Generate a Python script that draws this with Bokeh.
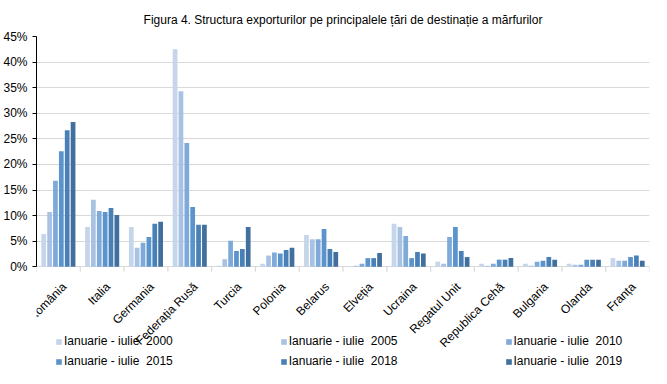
import numpy as np
from bokeh.plotting import figure
from bokeh.models import (ColumnDataSource, FixedTicker, NumeralTickFormatter,
                          Legend, LegendItem, Range1d)
from bokeh.core.properties import value
from bokeh.embed import file_html
from bokeh.resources import INLINE

countries = ["România", "Italia", "Germania", "Federația Rusă", "Turcia", "Polonia",
             "Belarus", "Elveția", "Ucraina", "Regatul Unit", "Republica Cehă",
             "Bulgaria", "Olanda", "Franța"]

series_names = ["Ianuarie - iulie  2000", "Ianuarie - iulie  2005", "Ianuarie - iulie  2010",
                "Ianuarie - iulie  2015", "Ianuarie - iulie  2018", "Ianuarie - iulie  2019"]

v2000 = [6.4, 7.8, 7.8, 42.5, 0.2, 0.6, 6.2, 0.1, 8.4, 1.0, 0.6, 0.6, 0.6, 1.7]
v2005 = [10.7, 13.1, 3.7, 34.3, 1.5, 2.2, 5.4, 0.2, 7.8, 0.6, 0.2, 0.2, 0.4, 1.2]
v2010 = [16.8, 10.9, 4.7, 24.2, 5.1, 2.8, 5.4, 0.6, 6.0, 5.8, 0.6, 1.0, 0.4, 1.2]
v2015 = [22.6, 10.7, 5.8, 11.7, 3.1, 2.6, 7.4, 1.7, 1.7, 7.8, 1.4, 1.2, 1.4, 1.9]
v2018 = [26.7, 11.5, 8.4, 8.2, 3.5, 3.3, 3.5, 1.7, 2.9, 3.1, 1.4, 1.9, 1.4, 2.2]
v2019 = [28.3, 10.1, 8.8, 8.2, 7.8, 3.7, 2.9, 2.7, 2.6, 1.9, 1.7, 1.4, 1.4, 1.2]

y_ticks = [0, 5, 10, 15, 20, 25, 30, 35, 40, 45]

all_series = [v2000, v2005, v2010, v2015, v2018, v2019]
colors = ["#C5D5EA", "#A8C2E3", "#7EA9D9", "#5B94CC", "#4A80B8", "#41709E"]

FONT = "Liberation Sans"

# the frame extends below 0 to hold the category labels and the legend
p = figure(width=651, height=368, output_backend="svg", toolbar_location=None,
           x_axis_location=None,
           x_range=Range1d(0, len(countries)), y_range=Range1d(-0.1987, 0.45),
           min_border_left=0, min_border_right=2, min_border_top=0, min_border_bottom=0)
p.outline_line_color = None
p.background_fill_color = "white"
p.title.text = "Figura 4. Structura exporturilor pe principalele țări de destinație a mărfurilor"
p.title.text_font = FONT
p.title.text_font_size = "12px"
p.title.text_font_style = "normal"
p.title.text_color = "#000000"
p.title.align = "center"
p.title.offset = 29
p.title.standoff = 20

centers = np.arange(len(countries)) + 0.5
boundaries = np.arange(len(countries) + 1)
pitch = 0.134
bar_w = 0.108
renderers = []
for i, vals in enumerate(all_series):
    xs = centers + (i - 2.5) * pitch
    src = ColumnDataSource(dict(x=xs, top=np.array(vals) / 100.0))
    r = p.vbar(x="x", top="top", width=bar_w, source=src, color=colors[i], line_color=None)
    renderers.append(r)

# category boundary ticks below the zero line
p.segment(x0=boundaries, y0=np.zeros(len(boundaries)), x1=boundaries,
          y1=np.full(len(boundaries), -0.0097), line_color="#D9D9D9", line_width=1.2)

# category labels
lab_src = ColumnDataSource(dict(x=centers, y=np.zeros(len(centers)), label=countries))
p.text(x="x", y="y", text="label", source=lab_src, angle=np.pi / 4,
       text_align="right", text_baseline="top", x_offset=1, y_offset=13,
       text_font=value(FONT), text_font_size=value("12px"), text_color="#000000")

# y axis
p.yaxis.ticker = FixedTicker(ticks=[t / 100 for t in y_ticks])
p.yaxis.formatter = NumeralTickFormatter(format="0%")
p.yaxis.bounds = (0, 0.45)
p.yaxis.axis_line_color = "#000000"
p.yaxis.major_tick_line_color = "#000000"
p.yaxis.major_tick_out = 4
p.yaxis.major_tick_in = 0
p.yaxis.minor_tick_line_color = None
p.yaxis.major_label_text_font = FONT
p.yaxis.major_label_text_font_size = "12px"
p.yaxis.major_label_text_color = "#000000"
p.yaxis.major_label_standoff = 5

p.xgrid.grid_line_color = None
p.ygrid.grid_line_color = "#D9D9D9"
p.ygrid.grid_line_width = 1.2


def make_legend(idx, vy):
    lg = Legend(items=[LegendItem(label=series_names[i], renderers=[renderers[i]]) for i in idx],
                orientation="horizontal", location=(19, vy))
    lg.label_text_font = FONT
    lg.label_text_font_size = "12px"
    lg.label_text_color = "#000000"
    lg.glyph_width = 7
    lg.glyph_height = 7
    lg.label_standoff = 2
    lg.label_height = 12
    lg.spacing = 107
    lg.padding = 0
    lg.margin = 0
    lg.border_line_color = None
    lg.background_fill_alpha = 0
    return lg


p.add_layout(make_legend([0, 1, 2], 20))
p.add_layout(make_legend([3, 4, 5], 0))

open("out.html", "w").write(file_html(p, INLINE))
